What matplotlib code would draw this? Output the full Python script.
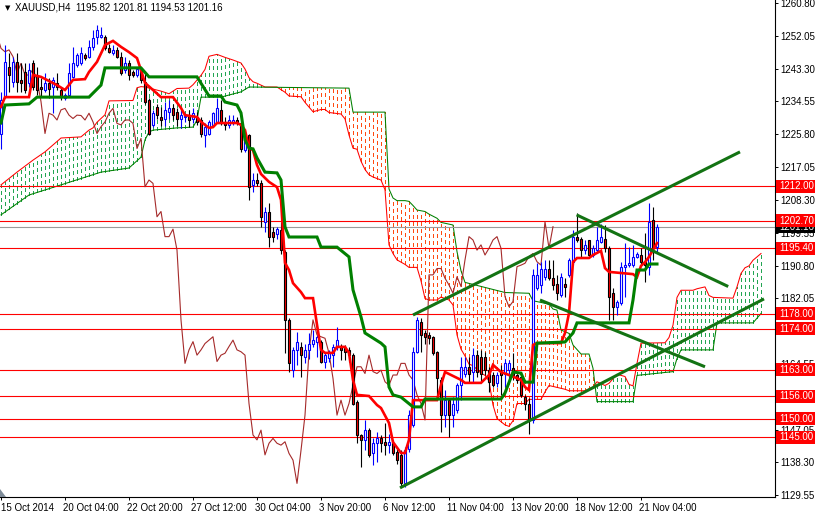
import numpy as np
import matplotlib
matplotlib.use("Agg")
import matplotlib.pyplot as plt
import matplotlib.transforms as mtransforms
from matplotlib.patches import Rectangle, Polygon

plt.rcParams['font.family'] = ['Liberation Sans', 'DejaVu Sans']

# ---------------- data (XAUUSD H4, bar index 0 = 15 Oct 2014 12:00) ----------------
opens = [1226.0,1236.0,1243.8,1239.8,1245.2,1240.3,1242.5,1239.4,1244.7,1241.6,
         1238.5,1237.6,1239.4,1238.5,1239.4,1237.6,1235.4,1236.3,1241.2,1244.3,
         1244.7,1247.0,1246.5,1249.2,1251.8,1251.8,1251.8,1248.7,1247.4,1248.3,
         1246.5,1243.0,1244.7,1242.5,1241.6,1242.9,1239.8,1234.9,1228.3,1233.2,
         1230.5,1230.0,1231.8,1232.7,1231.8,1230.0,1230.3,1230.9,1230.0,1230.5,
         1229.6,1225.6,1226.0,1228.3,1229.1,1232.3,1228.9,1228.3,1229.1,1229.6,
         1228.7,1221.6,1225.6,1212.3,1213.6,1212.7,1202.5,1205.2,1199.8,1199.2,
         1200.3,1194.5,1176.3,1162.9,1168.3,1169.2,1166.5,1168.3,1170.0,1170.5,
         1170.5,1165.2,1166.1,1166.9,1169.2,1169.2,1168.7,1168.3,1166.9,1154.5,
         1145.6,1144.3,1146.9,1140.7,1143.4,1144.7,1143.8,1143.0,1143.4,1141.2,
         1140.3,1132.7,1142.0,1148.3,1167.8,1175.8,1172.7,1172.3,1171.8,1167.8,
         1160.3,1150.9,1154.9,1150.9,1152.3,1158.9,1162.0,1163.8,1162.5,1166.9,
         1166.5,1166.5,1162.9,1161.6,1159.4,1162.5,1162.0,1162.9,1163.4,1161.6,
         1161.2,1155.8,1154.0,1149.6,1184.7,1185.6,1187.8,1190.0,1187.4,1186.0,
         1182.9,1186.0,1188.3,1191.8,1198.5,1198.0,1194.9,1197.6,1193.6,1194.9,
         1197.2,1198.0,1195.4,1183.4,1179.8,1180.7,1190.5,1190.9,1190.9,1193.2,
         1193.6,1191.8,1190.5,1203.0,1195.82]
highs = [1237.0,1249.6,1247.4,1246.5,1247.4,1244.7,1244.7,1244.7,1245.6,1243.8,
         1240.7,1242.1,1240.7,1241.2,1242.1,1238.5,1236.7,1244.7,1249.2,1247.4,
         1249.2,1247.4,1250.9,1253.6,1255.0,1254.5,1252.3,1250.0,1249.6,1249.2,
         1247.8,1246.5,1245.6,1242.9,1243.4,1243.4,1242.0,1235.4,1232.3,1234.0,
         1233.0,1234.5,1234.9,1234.0,1232.7,1232.3,1231.4,1232.3,1232.7,1231.8,
         1230.5,1228.7,1229.6,1231.8,1235.4,1234.9,1230.5,1231.0,1231.0,1230.5,
         1229.1,1226.5,1226.0,1215.4,1215.4,1213.6,1206.5,1207.4,1201.2,1201.2,
         1202.5,1194.9,1176.7,1169.2,1173.2,1170.5,1170.0,1172.7,1173.6,1172.3,
         1170.9,1167.8,1168.3,1170.0,1174.5,1170.0,1169.6,1169.2,1167.4,1154.9,
         1146.0,1149.6,1147.4,1144.7,1146.5,1145.6,1148.7,1146.0,1144.3,1142.0,
         1141.6,1142.5,1152.3,1169.2,1177.2,1176.7,1173.6,1173.2,1172.0,1168.0,
         1161.0,1157.6,1155.4,1155.8,1159.4,1166.5,1166.5,1166.5,1168.7,1168.3,
         1168.3,1167.8,1163.8,1162.5,1162.5,1164.3,1166.0,1165.5,1167.4,1162.0,
         1161.6,1156.3,1155.4,1190.0,1191.4,1191.8,1192.3,1192.3,1192.3,1188.3,
         1188.7,1187.4,1192.7,1200.3,1204.7,1198.5,1197.6,1197.6,1196.3,1201.2,
         1202.0,1201.6,1196.0,1184.7,1181.6,1191.8,1196.7,1195.8,1196.3,1194.5,
         1195.4,1199.4,1207.4,1206.5,1201.81]
lows = [1222.0,1235.4,1237.2,1238.5,1237.2,1237.2,1236.7,1238.5,1237.6,1236.3,
        1235.8,1237.2,1235.4,1231.4,1237.6,1235.0,1234.9,1235.8,1240.8,1243.8,
        1244.3,1245.6,1246.1,1248.3,1250.0,1251.4,1248.3,1247.4,1247.0,1246.1,
        1241.6,1242.1,1240.3,1241.2,1241.2,1239.4,1234.0,1225.5,1227.8,1230.0,
        1228.0,1228.0,1230.0,1229.6,1228.0,1227.4,1229.0,1227.8,1228.7,1228.3,
        1225.2,1222.5,1225.6,1227.8,1228.7,1228.3,1227.0,1227.4,1228.3,1228.3,
        1221.1,1221.1,1208.3,1210.5,1212.0,1201.2,1199.8,1195.8,1197.2,1198.0,
        1194.0,1167.4,1162.5,1161.2,1164.3,1161.2,1164.7,1166.0,1169.2,1166.5,
        1164.7,1163.4,1165.2,1163.8,1168.3,1165.6,1165.6,1165.2,1153.6,1143.4,
        1137.2,1141.6,1139.8,1137.6,1138.5,1141.0,1140.3,1140.7,1140.3,1138.0,
        1131.8,1131.8,1141.2,1147.8,1167.4,1167.8,1170.0,1170.0,1167.0,1155.0,
        1146.5,1147.8,1145.2,1147.8,1151.4,1154.9,1161.2,1159.8,1159.8,1161.2,
        1159.8,1161.6,1157.2,1158.5,1158.5,1156.3,1158.5,1160.5,1160.3,1159.4,
        1155.8,1152.3,1146.0,1148.7,1184.3,1183.4,1186.9,1187.0,1184.3,1181.6,
        1182.5,1182.5,1187.8,1190.9,1197.2,1193.2,1194.0,1193.2,1193.2,1194.5,
        1196.7,1194.5,1176.3,1176.3,1177.6,1180.3,1182.5,1190.5,1190.5,1192.8,
        1190.9,1186.5,1188.3,1192.3,1194.53]
closes = [1235.0,1245.0,1241.6,1245.2,1239.8,1239.4,1237.6,1243.0,1238.5,1237.6,
          1238.0,1239.4,1238.0,1240.3,1238.5,1235.8,1236.3,1242.1,1244.7,1247.0,
          1247.4,1246.1,1249.2,1251.4,1253.6,1252.3,1248.7,1247.8,1248.3,1246.5,
          1242.1,1244.7,1241.6,1241.6,1243.1,1240.3,1234.5,1226.0,1231.4,1230.9,
          1229.6,1232.3,1232.7,1230.9,1230.0,1230.9,1230.8,1229.6,1231.4,1229.1,
          1226.0,1227.8,1229.1,1231.4,1232.7,1228.7,1228.3,1229.6,1229.6,1228.7,
          1222.0,1224.7,1211.8,1213.6,1212.7,1203.8,1205.2,1198.5,1198.5,1200.5,
          1194.9,1176.3,1164.7,1168.3,1170.5,1166.9,1168.3,1170.0,1170.9,1171.8,
          1165.2,1166.9,1167.4,1169.2,1170.9,1168.3,1167.8,1166.9,1154.0,1145.6,
          1144.3,1146.9,1140.3,1143.4,1144.7,1143.4,1142.9,1143.8,1140.7,1138.9,
          1132.7,1141.5,1150.9,1167.8,1176.3,1172.3,1171.8,1171.4,1167.4,1160.7,
          1150.9,1154.9,1150.9,1154.0,1158.9,1163.8,1163.8,1162.0,1166.9,1162.5,
          1162.0,1162.9,1159.8,1158.9,1161.6,1161.6,1164.7,1164.7,1161.6,1160.3,
          1156.3,1154.0,1149.6,1188.3,1188.3,1190.0,1190.0,1187.4,1185.6,1183.4,
          1187.8,1185.2,1192.3,1198.5,1197.6,1194.9,1196.3,1193.6,1195.4,1197.6,
          1198.5,1195.4,1182.5,1179.8,1181.2,1190.5,1190.9,1191.4,1193.2,1194.0,
          1191.8,1190.9,1202.5,1195.4,1201.16]

tenkan_idx = [0,1,7,8,10,14,16,18,21,22,24,26,28,30,32,34,35,36,38,40,43,45,46,49,50,52,53,54,59,60,
              61,62,63,64,65,67,69,70,71,72,73,75,76,78,79,80,81,83,84,86,87,88,89,92,94,95,97,98,100,101,
              102,103,109,110,111,115,116,120,122,123,125,127,130,131,132,133,134,140,141,142,143,144,147,148,150,151,152,158,159,160,
              161,162,164]
tenkan_val = [1233.1,1235.7,1235.7,1241.6,1241.1,1238.9,1237.6,1240.3,1240.5,1242.4,1245.1,1249.6,1250.7,1249.1,1247.7,1246.1,1242.9,1239.5,1237.6,1235.7,
              1235.7,1232.8,1230.9,1230.4,1229.1,1227.5,1227.7,1228.8,1228.8,1228.3,1226.9,1222.1,1221.6,1217.6,1215.2,1213.1,1211.7,1208.3,1191.5,1189.6,
              1186.1,1183.7,1182.1,1182.1,1175.0,1168.3,1167.5,1167.5,1169.1,1169.1,1167.5,1160.3,1156.3,1156.0,1153.6,1152.8,1148.8,1143.7,1140.8,1140.8,
              1144.3,1154.9,1154.9,1158.9,1162.4,1160.3,1159.5,1159.5,1161.6,1164.3,1162.4,1161.6,1160.3,1158.4,1157.6,1169.6,1170.1,1170.1,1172.8,1178.1,
              1191.7,1192.8,1192.8,1193.6,1194.7,1190.1,1189.1,1188.5,1187.7,1190.7,1191.7,1193.1,1196.8]

kijun_idx = [0,1,7,9,22,25,26,35,37,49,52,55,56,59,60,61,62,63,64,65,66,69,70,71,72,79,80,84,87,88,
             90,91,95,96,97,98,100,103,105,106,125,126,128,130,131,133,134,141,143,144,157,158,159,161,162,164]
kijun_val = [1228.8,1233.6,1233.9,1235.7,1235.7,1238.9,1243.5,1243.5,1241.1,1241.1,1236.0,1236.0,1234.4,1233.6,1231.5,1224.3,1222.1,1221.9,1219.5,1217.6,
             1215.7,1215.5,1213.6,1201.1,1198.4,1198.4,1195.7,1195.7,1193.1,1184.3,1177.1,1172.8,1170.1,1169.1,1158.4,1156.3,1155.7,1153.1,1153.1,1155.2,
             1155.2,1156.8,1162.4,1162.1,1159.7,1159.7,1170.1,1170.4,1172.8,1175.5,1175.5,1181.6,1189.6,1189.6,1191.2,1191.2]

spanA_idx = [0,4,8,11,15,20,22,23,24,26,27,33,34,35,36,40,42,44,47,48,50,51,52,54,56,58,60,61,62,63,
             64,66,69,71,72,75,76,78,80,81,82,85,86,87,88,89,90,91,92,93,95,96,97,98,99,101,102,104,105,106,
             107,109,110,112,113,114,115,116,117,118,120,121,122,123,124,126,127,128,129,131,132,135,136,137,141,142,146,148,149,151,
             152,153,154,156,157,158,159,160,166,167,168,169,170,173,174,176,177,178,183,184,185,186,187,188,190]
spanA_val = [1212.3,1215.7,1218.9,1221.1,1224.8,1225.1,1226.9,1227.5,1229.0,1231.0,1234.7,1234.8,1238.2,1238.5,1238.4,1237.3,1236.6,1238.0,1238.1,1239.0,
             1241.5,1243.1,1246.6,1247.1,1246.3,1245.6,1244.8,1243.2,1240.9,1239.8,1239.4,1238.4,1238.4,1237.0,1236.0,1235.8,1234.3,1231.8,1232.4,1232.4,
             1231.6,1231.2,1229.9,1225.6,1222.1,1221.8,1218.6,1216.4,1215.0,1214.4,1213.6,1211.0,1196.3,1194.0,1192.3,1191.1,1190.3,1190.3,1186.7,1182.0,
             1181.6,1181.6,1182.4,1181.6,1180.3,1172.3,1168.5,1166.7,1164.5,1164.1,1162.1,1161.5,1160.0,1153.6,1150.0,1148.3,1147.9,1149.4,1154.0,1154.0,
             1155.1,1155.1,1157.1,1158.8,1157.8,1157.4,1157.4,1158.4,1159.8,1158.8,1159.4,1160.6,1161.8,1161.2,1159.1,1158.7,1164.7,1170.1,1170.2,1171.6,
             1174.9,1182.3,1184.2,1184.2,1184.6,1185.1,1182.8,1182.3,1182.1,1185.1,1188.7,1190.2,1190.7,1192.2,1194.0]

spanB_idx = [0,7,15,25,32,35,36,37,38,44,48,49,50,55,60,62,87,88,96,97,98,99,101,102,103,104,106,107,109,110,
             113,114,115,116,126,132,133,137,138,139,140,142,143,145,147,148,149,158,159,168,169,170,178,179,188,190]
spanB_val = [1204.3,1209.6,1212.3,1215.7,1216.8,1219.7,1224.3,1226.4,1226.9,1227.5,1227.7,1229.6,1235.7,1235.7,1237.1,1238.4,1238.1,1231.7,1231.7,1211.2,
             1208.8,1208.1,1208.1,1207.9,1206.8,1205.6,1205.2,1204.5,1203.4,1202.3,1201.6,1194.5,1189.4,1186.3,1183.6,1183.4,1181.4,1180.5,1179.2,1178.9,
             1173.6,1172.7,1169.6,1167.2,1167.2,1163.4,1154.5,1154.5,1161.5,1162.5,1166.0,1168.3,1168.3,1175.5,1175.5,1178.0]

chikou_shift = 26

levels = [1212.00, 1202.70, 1195.40, 1178.00, 1174.00, 1163.00, 1156.00, 1150.00, 1145.00]
last_price = 1201.16

# trend lines: (bar0, price0, bar1, price1)
trend_bar0 = [99.75, 103.0, 143.9, 134.75]
trend_p0 = [1131.5, 1177.6, 1204.3, 1181.6]
trend_bar1 = [190.75, 184.75, 181.8, 176.0]
trend_p1 = [1181.9, 1221.1, 1185.2, 1163.8]

price_ticks = [1260.80, 1252.05, 1243.30, 1234.55, 1225.80, 1217.05, 1208.30, 1199.55,
               1190.80, 1182.05, 1173.30, 1164.55, 1155.80, 1147.05, 1138.30, 1129.55]
hidden_ticks = [1173.30, 1155.80]   # fully covered by level boxes
date_bars = [0, 16, 32, 48, 64, 80, 96, 112, 128, 144, 160]
date_labels = ['15 Oct 2014', '20 Oct 04:00', '22 Oct 20:00', '27 Oct 12:00', '30 Oct 04:00',
               '3 Nov 20:00', '6 Nov 12:00', '11 Nov 04:00', '13 Nov 20:00', '18 Nov 12:00', '21 Nov 04:00']
title = 'XAUUSD,H4  1195.82 1201.81 1194.53 1201.16'

# ---------------- figure ----------------
W, H = 815, 516
fig = plt.figure(figsize=(W / 100, H / 100), dpi=100)
ax = fig.add_axes([0, 19 / H, 775 / W, 497 / H])
ax.set_xlim(-0.25, 193.5)
ax.set_ylim(1129.07, 1261.6)

# cloud: dotted vertical hatch at every bar between the two spans
bars_cloud = np.arange(0, 191)
a_bar = np.interp(bars_cloud, spanA_idx, spanA_val)
b_bar = np.interp(bars_cloud, spanB_idx, spanB_val)
up = a_bar >= b_bar
ax.vlines(bars_cloud[up], b_bar[up], a_bar[up], colors='#22A552', lw=1.0,
          linestyles=(0, (2.2, 2.2)), zorder=1, antialiased=False)
ax.vlines(bars_cloud[~up], a_bar[~up], b_bar[~up], colors='#FF4A10', lw=1.0,
          linestyles=(0, (2.2, 2.2)), zorder=1, antialiased=False)
ax.plot(spanA_idx, spanA_val, color='#FF0000', lw=0.75, zorder=1.5)
ax.plot(spanB_idx, spanB_val, color='#008000', lw=0.75, zorder=1.5)

# horizontal levels and last price line
for lv in levels:
    ax.axhline(lv, color='#FF0000', lw=0.8, zorder=2.5)
ax.axhline(last_price, color='#9A9A9A', lw=0.8, zorder=2.4)

# chikou
xs = np.arange(len(closes))
ax.plot(xs - chikou_shift, closes, color='#A52A2A', lw=0.8, zorder=2.6)

# candles
o = np.array(opens); hh = np.array(highs); ll = np.array(lows); c = np.array(closes)
bull = c >= o
ax.vlines(xs[bull], ll[bull], hh[bull], color='#0000FF', lw=0.8, zorder=3)
ax.vlines(xs[~bull], ll[~bull], hh[~bull], color='black', lw=0.8, zorder=3)
ax.bar(xs[bull], (c - o)[bull], bottom=o[bull], width=0.5, facecolor='white',
       edgecolor='#0000FF', lw=0.8, zorder=4)
ax.bar(xs[~bull], (o - c)[~bull], bottom=c[~bull], width=0.5, facecolor='#FF0000',
       edgecolor='black', lw=0.8, zorder=4)

# tenkan / kijun
ax.plot(tenkan_idx, tenkan_val, color='#FF0000', lw=1.9, zorder=5, solid_joinstyle='miter')
ax.plot(kijun_idx, kijun_val, color='#008000', lw=2.2, zorder=5, solid_joinstyle='miter')

# trend lines
for b0, p0, b1, p1 in zip(trend_bar0, trend_p0, trend_bar1, trend_p1):
    ax.plot([b0, b1], [p0, p1], color='#137313', lw=2.2, zorder=6, solid_capstyle='butt')

# axes styling
for s in ('top', 'left'):
    ax.spines[s].set_visible(False)
ax.spines['right'].set_linewidth(0.8)
ax.spines['bottom'].set_linewidth(0.8)
ax.yaxis.tick_right()
ax.set_yticks(price_ticks)
ax.set_yticklabels(['' if t in hidden_ticks else '%.2f' % t for t in price_ticks])
ax.tick_params(axis='y', direction='out', length=2.5, width=0.7, pad=1.2, labelsize=7, colors='black')
ax.set_xticks(date_bars)
ax.set_xticklabels([])
ax.tick_params(axis='x', direction='out', length=2.5, width=0.7)
for b, lab in zip(date_bars, date_labels):
    ax.annotate(lab, xy=(b, 0), xycoords=('data', 'axes fraction'),
                xytext=(-1.5 if b > 0 else 0, -4), textcoords='offset points',
                ha='left', va='top', fontsize=7, annotation_clip=False)

# right-side price boxes
btr = mtransforms.blended_transform_factory(ax.transAxes, ax.transData)
box_h = 13 / 3.75
x_box0 = 776 / 775
box_w = (815 - 776) / 775
ax.add_patch(Rectangle((x_box0, last_price - box_h / 2), box_w, box_h, transform=btr,
                       facecolor='black', edgecolor='none', clip_on=False, zorder=7))
ax.text(779 / 775, last_price, '%.2f' % last_price, transform=btr, color='white',
        fontsize=7, va='center', ha='left', zorder=8, clip_on=False)
for lv in levels:
    ax.add_patch(Rectangle((x_box0, lv - box_h / 2), box_w, box_h, transform=btr,
                           facecolor='#FF0000', edgecolor='none', clip_on=False, zorder=9))
    ax.text(779 / 775, lv, '%.2f' % lv, transform=btr, color='white', fontsize=7,
            va='center', ha='left', zorder=10, clip_on=False)

# title
ax.text(5 / 775, 1 - 8 / 497, '\u25BC', transform=ax.transAxes, fontsize=5,
        va='center', ha='left', family=['DejaVu Sans'], zorder=10)
ax.text(15 / 775, 1 - 8 / 497, title, transform=ax.transAxes, fontsize=7,
        va='center', ha='left', zorder=10)

# little shift marker bottom-left
ax.add_patch(Polygon([[0, 0], [0, 8 / 497], [6 / 775, 0]], closed=True,
                     transform=ax.transAxes, facecolor='#7F8C99', edgecolor='none',
                     clip_on=False, zorder=10))

fig.savefig('out.png', dpi=100, facecolor='white')
